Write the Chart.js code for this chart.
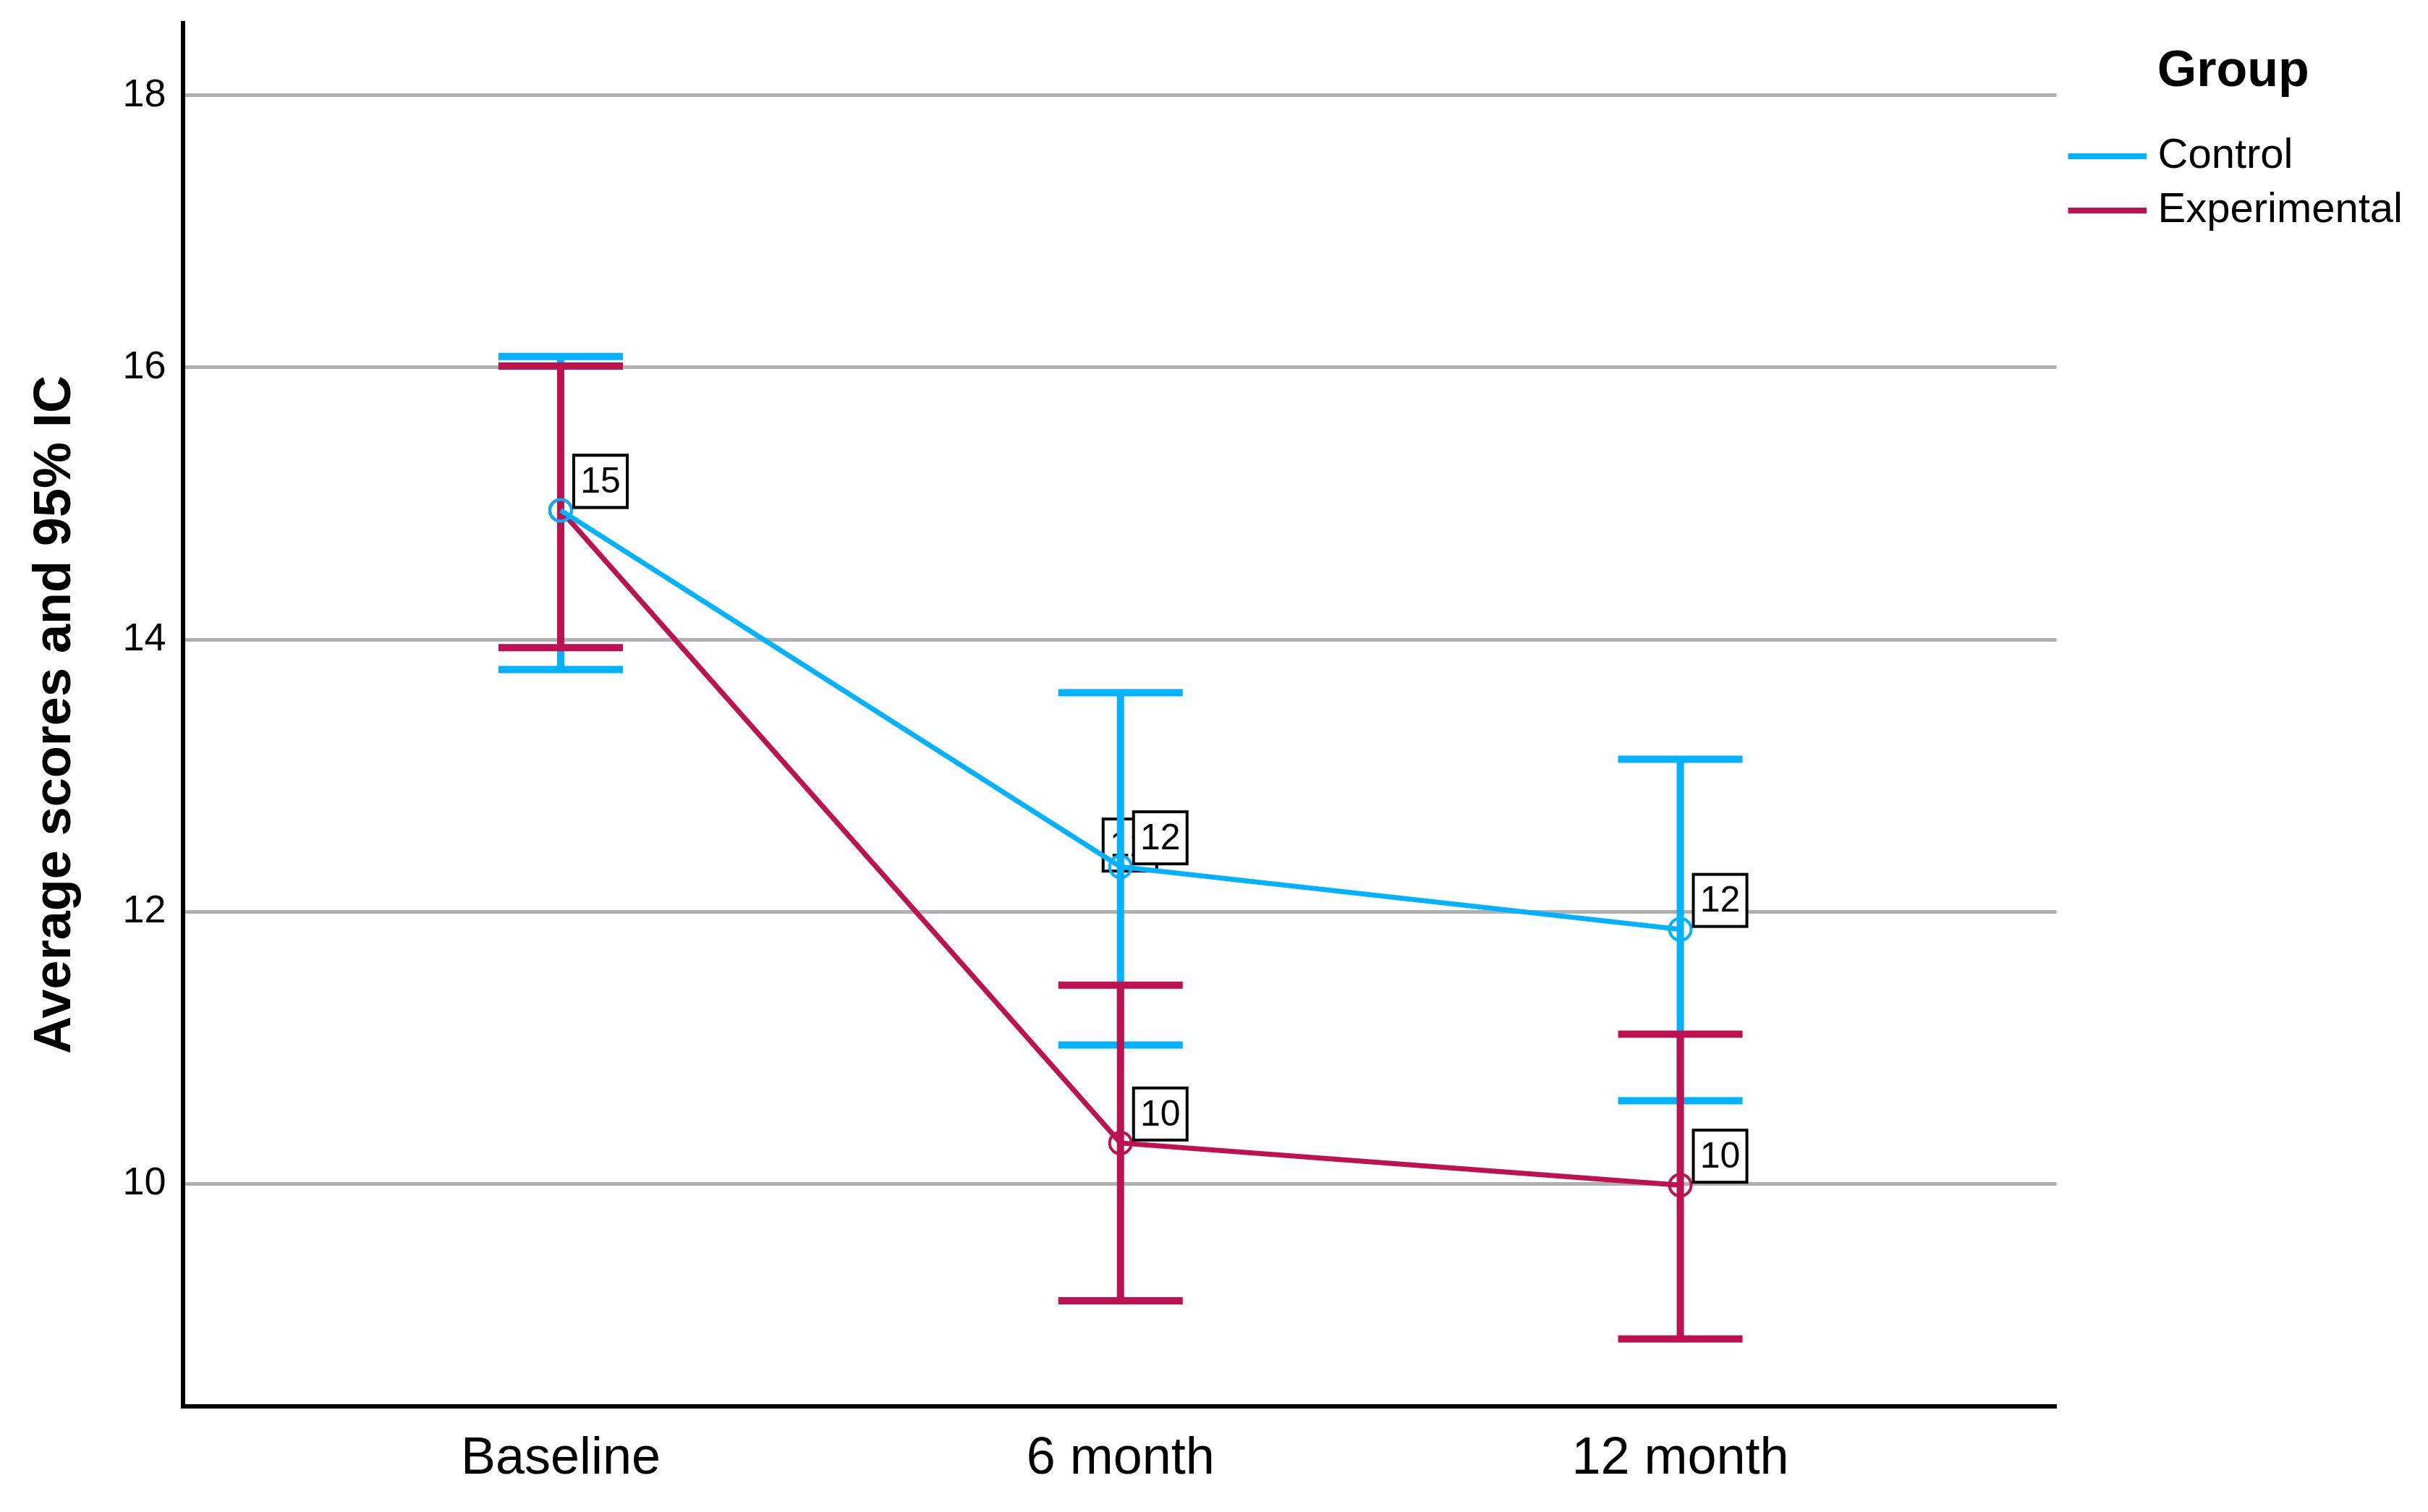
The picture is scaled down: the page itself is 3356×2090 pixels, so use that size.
<!DOCTYPE html>
<html>
<head>
<meta charset="utf-8">
<title>Average scores and 95% IC</title>
<script src="https://cdn.jsdelivr.net/npm/chart.js@4.4.1/dist/chart.umd.min.js"></script>
<style>
  html, body { margin: 0; padding: 0; background: #fff; }
  #wrap { width: 3356px; height: 2090px; position: relative; }
</style>
</head>
<body>
<div id="wrap"><canvas id="meansChart"></canvas></div>
<script>
// values
const timePoints = ['Baseline', '6 month', '12 month'];
const controlMean = [14.95, 12.33, 11.87];
const controlLow = [13.78, 11.02, 10.61];
const controlHigh = [16.08, 13.61, 13.12];
const experimentalMean = [14.95, 10.30, 9.99];
const experimentalLow = [13.94, 9.14, 8.86];
const experimentalHigh = [16.01, 11.46, 11.10];
const yTicks = [10, 12, 14, 16, 18];

const blue = '#00b2ff';
const red = '#be1250';
const font = 'Liberation Sans, Arial, sans-serif';

Chart.defaults.font.family = font;
Chart.defaults.color = '#000';

const groups = [
  { color: blue, low: controlLow, high: controlHigh },
  { color: red, low: experimentalLow, high: experimentalHigh }
];

// legend swatch: a line that sits close to the text
function swatch(color) {
  const c = document.createElement('canvas');
  c.width = 120; c.height = 12;
  const g = c.getContext('2d');
  g.fillStyle = color;
  g.fillRect(12, 2, 108, 8);
  return c;
}

function drawLabel(ctx, text, px, py, dx, dy) {
  const w = 74, h = 72;
  const left = px + dx, bottom = py + dy;
  ctx.save();
  ctx.fillStyle = '#fff';
  ctx.fillRect(left, bottom - h, w, h);
  ctx.strokeStyle = '#000';
  ctx.lineWidth = 4;
  ctx.strokeRect(left, bottom - h, w, h);
  ctx.fillStyle = '#000';
  ctx.font = '50px ' + font;
  ctx.textAlign = 'center';
  ctx.textBaseline = 'middle';
  ctx.fillText(text, left + w / 2, bottom - h / 2 + 2);
  ctx.restore();
}

// error bars (and the label box SPSS left half hidden behind the bar)
const errorBars = {
  id: 'errorBars',
  beforeDatasetsDraw(chart) {
    const ctx = chart.ctx;
    const x = chart.scales.x, y = chart.scales.y;
    const ds = chart.data.datasets[0];
    drawLabel(ctx, String(Math.round(ds.data[1].y)), x.getPixelForValue(1), y.getPixelForValue(ds.data[1].y), -24, 6);

    groups.forEach(g => {
      ctx.save();
      ctx.strokeStyle = g.color;
      ctx.lineWidth = 10;
      g.low.forEach((lo, i) => {
        const px = x.getPixelForValue(i);
        const yl = y.getPixelForValue(lo);
        const yh = y.getPixelForValue(g.high[i]);
        ctx.beginPath();
        ctx.moveTo(px, yl); ctx.lineTo(px, yh);
        ctx.moveTo(px - 86, yl); ctx.lineTo(px + 86, yl);
        ctx.moveTo(px - 86, yh); ctx.lineTo(px + 86, yh);
        ctx.stroke();
      });
      ctx.restore();
    });
  },
  afterDatasetsDraw(chart) {
    const ctx = chart.ctx;
    const x = chart.scales.x, y = chart.scales.y;
    chart.data.datasets.forEach(ds => {
      ds.data.forEach(p => {
        drawLabel(ctx, String(Math.round(p.y)), x.getPixelForValue(p.x), y.getPixelForValue(p.y), 18, -4);
      });
    });
  }
};

var ctxL = document.getElementById('meansChart').getContext('2d');
var meansChart = new Chart(ctxL, {
  type: 'line',
  data: {
    datasets: [{
        label: 'Control',
        data: controlMean.map((v, i) => ({ x: i, y: v })),
        borderColor: blue,
        backgroundColor: 'rgba(0,0,0,0)',
        borderWidth: 7,
        pointRadius: 15,
        pointBorderWidth: 4,
        pointBackgroundColor: 'rgba(0,0,0,0)',
        pointBorderColor: blue,
        tension: 0
      },
      {
        label: 'Experimental',
        data: experimentalMean.map((v, i) => ({ x: i, y: v })),
        borderColor: red,
        backgroundColor: 'rgba(0,0,0,0)',
        borderWidth: 7,
        pointRadius: 15,
        pointBorderWidth: 4,
        pointBackgroundColor: 'rgba(0,0,0,0)',
        pointBorderColor: red,
        tension: 0
      }
    ]
  },
  options: {
    responsive: true,
    maintainAspectRatio: false,
    animation: false,
    layout: { padding: { left: 0, top: 23, right: 25, bottom: 0 } },
    plugins: {
      tooltip: { enabled: false },
      legend: {
        position: 'right',
        align: 'start',
        title: {
          display: true,
          text: 'Group',
          color: '#000',
          font: { size: 70, weight: 'bold' },
          padding: { top: 42, bottom: 21 }
        },
        labels: {
          usePointStyle: true,
          pointStyleWidth: 94,
          padding: 17,
          color: '#000',
          font: { size: 58, lineHeight: 1.3 },
          generateLabels: chart => chart.data.datasets.map((ds, i) => ({
            text: ds.label,
            strokeStyle: ds.borderColor,
            fillStyle: ds.borderColor,
            lineWidth: 0,
            pointStyle: swatch(ds.borderColor),
            hidden: false,
            datasetIndex: i,
            fontColor: '#000'
          }))
        }
      }
    },
    scales: {
      x: {
        type: 'linear',
        min: -0.674,
        max: 2.672,
        afterBuildTicks: axis => { axis.ticks = timePoints.map((t, i) => ({ value: i })); },
        grid: { display: false, drawTicks: false },
        border: { display: true, color: '#000', width: 6 },
        ticks: {
          padding: 30,
          color: '#000',
          font: { size: 72 },
          callback: value => timePoints[value]
        }
      },
      y: {
        min: 8.366,
        max: 18.53,
        afterBuildTicks: axis => { axis.ticks = yTicks.map(v => ({ value: v })); },
        grid: { color: '#b0b0b0', lineWidth: 5, drawTicks: false },
        border: { display: true, color: '#000', width: 6 },
        ticks: { padding: 24, color: '#000', font: { size: 54, lineHeight: 0.3 } },
        title: {
          display: true,
          text: 'Average scores and 95% IC',
          color: '#000',
          font: { size: 72, weight: 'bold' },
          padding: { top: 34, bottom: 25 }
        }
      }
    }
  },
  plugins: [errorBars]
});
</script>
</body>
</html>
